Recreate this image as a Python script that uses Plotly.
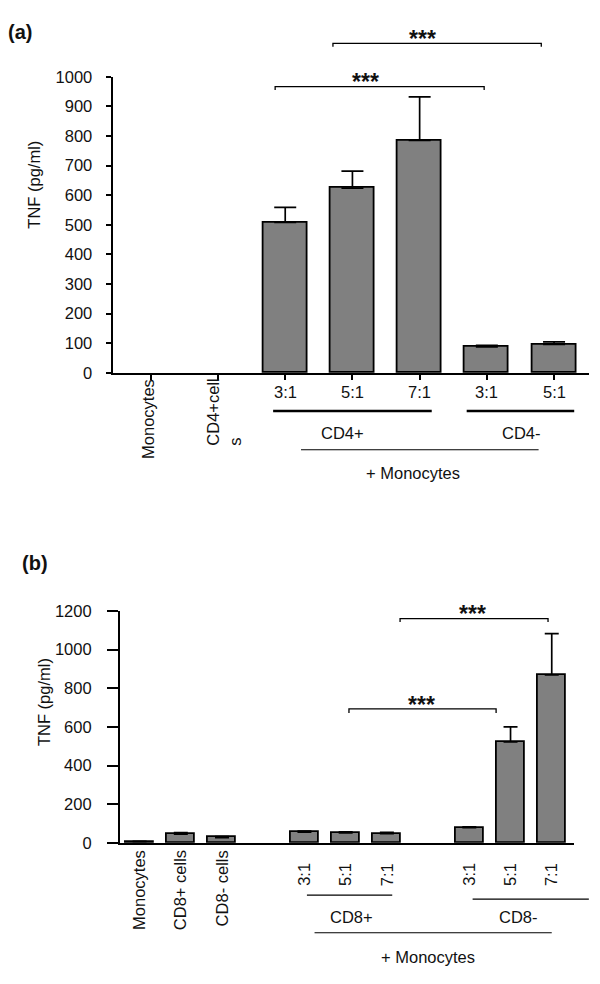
import plotly.graph_objects as go

# ---------------- data ----------------
# Panel (a)  (no measurable TNF for the two control columns -> no bar)
a_labels = ["Monocytes", "CD4+cell<br>s", "3:1", "5:1", "7:1", "3:1", "5:1"]
a_values = [None, None, 508, 624, 785, 88, 96]
a_errors = [None, None, 51, 57, 147, 5, 9]
a_yticks = [0, 100, 200, 300, 400, 500, 600, 700, 800, 900, 1000]

# Panel (b)
b_labels = ["Monocytes", "CD8+ cells", "CD8- cells", "", "3:1", "5:1", "7:1", "", "3:1", "5:1", "7:1"]
b_values = [6, 44, 27, None, 55, 51, 47, None, 78, 522, 869]
b_errors = [1, 8, 5, None, 5, 6, 7, None, 5, 78, 214]
b_yticks = [0, 200, 400, 600, 800, 1000, 1200]

group_a = ["CD4+", "CD4-"]
group_b = ["CD8+", "CD8-"]
common_label = "+ Monocytes"
y_title = "TNF (pg/ml)"
stars = "***"

# ---------------- geometry ----------------
W, H = 600, 984
FONT = "Liberation Sans, Arial, sans-serif"
FS = 16.5
STAR_FS = 23
INK = "#111111"
BAR = "#808080"

a_xdom = [112.5 / W, 589 / W]
a_xrng = [-0.57, 6.52]
a_ydom = [1 - 370.7 / H, 1 - 69 / H]
b_xdom = [119.8 / W, 574 / W]
b_xrng = [-0.48, 10.54]
b_ydom = [1 - 849.3 / H, 1 - 613.3 / H]


def px_x(u, dom, rng):
    return dom[0] + (u - rng[0]) / (rng[1] - rng[0]) * (dom[1] - dom[0])


def py(p):
    return 1 - p / H


def minus_zero(errs):
    return [0 if e is not None else None for e in errs]


fig = go.Figure()

fig.add_trace(go.Bar(
    x=list(range(len(a_values))), y=a_values, width=0.654,
    marker=dict(color=BAR, line=dict(color="black", width=1.8)),
    error_y=dict(type="data", array=a_errors, arrayminus=minus_zero(a_errors),
                 symmetric=False, color="black", thickness=1.7, width=11),
    xaxis="x", yaxis="y", showlegend=False, hoverinfo="skip",
))
fig.add_trace(go.Bar(
    x=list(range(len(b_values))), y=b_values, width=0.68,
    marker=dict(color=BAR, line=dict(color="black", width=1.8)),
    error_y=dict(type="data", array=b_errors, arrayminus=minus_zero(b_errors),
                 symmetric=False, color="black", thickness=1.7, width=7),
    xaxis="x2", yaxis="y2", showlegend=False, hoverinfo="skip",
))

axfont = dict(family=FONT, size=FS, color=INK)
fig.update_layout(
    width=W, height=H,
    margin=dict(l=0, r=0, t=0, b=0),
    paper_bgcolor="white", plot_bgcolor="white",
    font=axfont,
    xaxis=dict(domain=a_xdom, range=a_xrng, anchor="y",
               showline=True, linecolor="black", linewidth=1.8,
               ticks="outside", ticklen=5, tickwidth=1.6, tickcolor="black",
               tickvals=list(range(len(a_values))), showticklabels=False,
               showgrid=False, zeroline=False),
    yaxis=dict(domain=a_ydom, range=[0, 1000], anchor="x",
               showline=True, linecolor="black", linewidth=1.8,
               ticks="outside", ticklen=5, tickwidth=1.6, tickcolor="black",
               tickvals=a_yticks, ticklabelstandoff=10, tickfont=axfont,
               showgrid=False, zeroline=False),
    xaxis2=dict(domain=b_xdom, range=b_xrng, anchor="y2",
                showline=True, linecolor="black", linewidth=1.8,
                ticks="", showticklabels=False,
                showgrid=False, zeroline=False),
    yaxis2=dict(domain=b_ydom, range=[0, 1200], anchor="x2",
                showline=True, linecolor="black", linewidth=1.8,
                ticks="outside", ticklen=11, tickwidth=1.6, tickcolor="black",
                tickvals=b_yticks, ticklabelstandoff=12, tickfont=axfont,
                showgrid=False, zeroline=False),
    bargap=0,
)

ann = []
shapes = []


def text(x, y, s, xref="paper", size=FS, bold=False, angle=0, xanchor="center",
         yanchor="middle", align="center", xshift=0):
    ann.append(dict(x=x, y=y, xref=xref, yref="paper", text=s, showarrow=False,
                    textangle=angle, xanchor=xanchor, yanchor=yanchor, align=align,
                    xshift=xshift,
                    font=dict(family=FONT, size=size, color=INK,
                              weight="bold" if bold else "normal")))


def hline(x0, x1, y, w=1.2):
    shapes.append(dict(type="line", xref="paper", yref="paper",
                       x0=x0, x1=x1, y0=y, y1=y, line=dict(color="black", width=w)))


def bracket(x0, x1, y, ytick, w=1.3):
    shapes.append(dict(type="path", xref="paper", yref="paper",
                       path=f"M {x0},{ytick} L {x0},{y} L {x1},{y} L {x1},{ytick}",
                       line=dict(color="black", width=w)))


ax = lambda u: px_x(u, a_xdom, a_xrng)
bx = lambda u: px_x(u, b_xdom, b_xrng)

# panel letters
text(19.5 / W, py(23), "(a)", size=20, bold=True)
text(34.5 / W, py(564), "(b)", size=20, bold=True)

# y titles
text(34.4 / W, py(178.5), y_title, angle=-90)
text(44 / W, py(706), y_title, angle=-90)

# ---- panel (a) category labels
for i, lab in enumerate(a_labels):
    if i < 2:
        text(i, py(375), lab, xref="x", angle=-90, yanchor="top",
             align="left", xshift=(6 if "<br>" in lab else -3))
    else:
        text(i, py(390), lab, xref="x")

hline(ax(1.82), ax(4.18), py(409.5), w=2.6)
hline(ax(4.70), ax(6.30), py(409.5), w=2.6)
text(ax(2.85), py(432), group_a[0])
text(ax(5.51), py(432), group_a[1])
hline(ax(2.235), ax(5.77), py(449), w=1.1)
text(ax(3.90), py(473), common_label)

# brackets (a)
bracket(ax(2.71), ax(5.81), py(35), py(38.5))
text(ax(4.05), py(30.5), stars, size=STAR_FS, bold=True)
bracket(ax(1.85), ax(4.96), py(79), py(82.5))
text(ax(3.19), py(74.5), stars, size=STAR_FS, bold=True)

# ---- panel (b) category labels
for i, lab in enumerate(b_labels):
    if not lab:
        continue
    if i < 3:
        text(i, py(855), lab, xref="x2", angle=-90, yanchor="top")
    else:
        text(i, py(881.5), lab, xref="x2", angle=-90)

hline(bx(4.06), bx(6.13), py(902.7), w=1.2)
hline(bx(8.08), bx(10.9), py(906.7), w=1.2)
text(bx(5.13), py(925), group_b[0])
text(bx(9.2), py(925), group_b[1])
hline(bx(4.245), bx(10.0), py(941), w=1.1)
text(bx(7.0), py(966), common_label)

# brackets (b)
bracket(bx(5.08), bx(8.65), py(713), py(717))
text(bx(6.83), py(708.5), stars, size=STAR_FS, bold=True)
bracket(bx(6.32), bx(9.91), py(621), py(624.5))
text(bx(8.07), py(616.5), stars, size=STAR_FS, bold=True)

fig.update_layout(annotations=ann, shapes=shapes)
fig.write_html(
    "out.html",
    config={"displayModeBar": False},
    post_script="document.body.style.margin='0';document.body.style.overflow='hidden';",
)
